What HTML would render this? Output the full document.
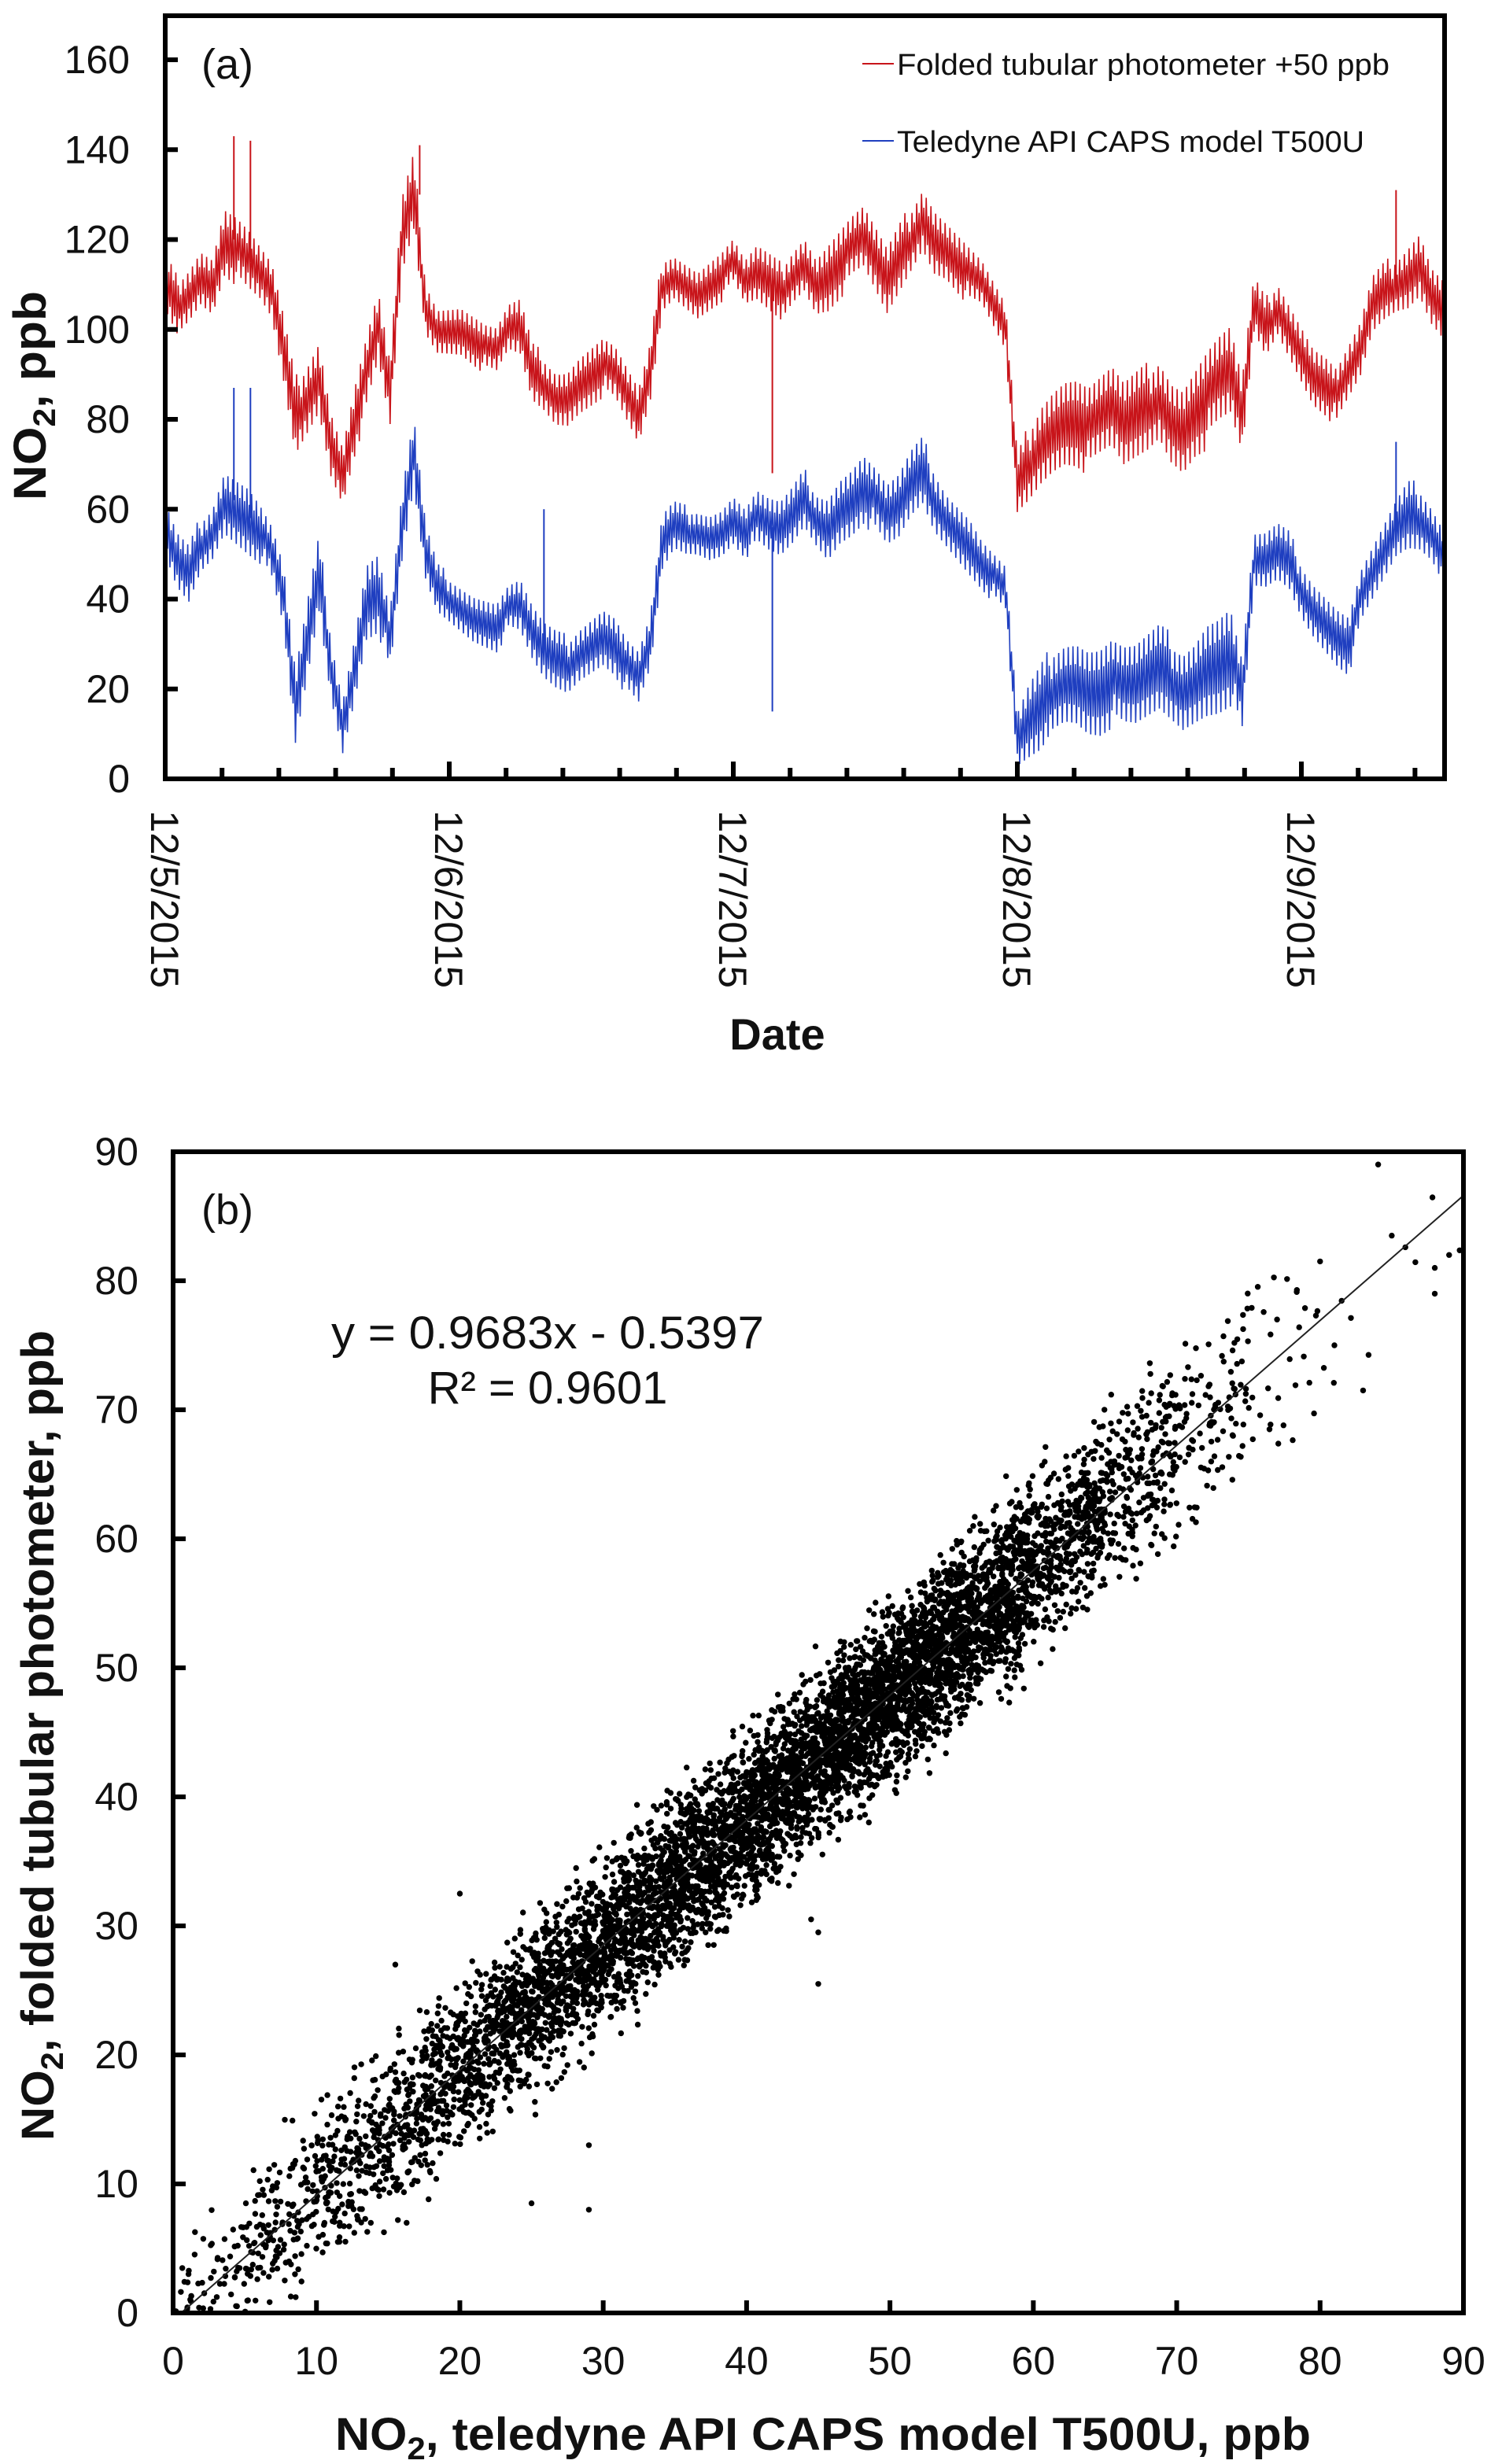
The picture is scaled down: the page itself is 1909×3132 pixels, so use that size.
<!DOCTYPE html>
<html><head><meta charset="utf-8"><style>
html,body{margin:0;padding:0;background:#fff}
svg{display:block}
text{font-family:"Liberation Sans",Arial,sans-serif;fill:#111}
</style></head><body>
<svg id="fig" width="1909" height="3132" viewBox="0 0 1909 3132" xmlns="http://www.w3.org/2000/svg">
<g id="chartA"></g>
<g id="chartB"></g>
</svg>
<script>
// ---------- Chart (a) data: hourly values starting 12/5/2015 00:00 ----------
const dateLabels = ["12/5/2015","12/6/2015","12/7/2015","12/8/2015","12/9/2015"];
const yTicksA = [0,20,40,60,80,100,120,140,160];
const photometerPlus50 = [110,105,108,112,110,120,118,115,112,108,
 95,80,85,90,75,68,80,90,100,85,
 120,130,105,100,100,100,98,96,95,100,
 100,90,88,85,85,88,90,92,90,85,
 80,90,110,112,110,108,110,112,115,110,
 112,110,108,112,115,110,112,115,118,120,
 115,110,115,120,125,120,118,115,112,110,
 105,100,65,70,75,78,80,80,78,80,
 82,78,80,82,85,80,78,82,85,88,
 90,80,105,100,105,100,95,90,88,85,
 90,95,105,108,110,112,115,108,105];
const capsT500U = [55,48,45,52,55,62,60,58,55,50,
 40,15,30,45,25,12,25,40,42,30,
 55,72,50,42,40,38,36,35,34,38,
 38,32,28,26,25,28,30,32,30,25,
 22,30,52,56,55,55,54,55,58,55,
 58,56,55,58,62,58,56,60,62,65,
 62,58,60,65,68,62,58,55,52,48,
 45,42,8,12,15,20,22,22,20,20,
 22,20,20,22,24,22,20,22,25,26,
 28,18,48,48,50,48,42,38,35,32,
 30,40,45,50,55,58,58,55,50];
const photometerNoise = [6,6,6,6,6,7,7,7,6,6, 7,8,8,8,7,6,7,8,8,7, 8,8,6,5,5,5,5,5,5,5,
 6,6,6,6,6,6,6,6,6,6, 6,6,6,5,5,5,5,5,5,5, 6,6,6,6,6,6,7,7,7,7, 7,7,7,7,7,7,6,6,6,5,
 5,5,6,8,9,9,9,9,9,9, 9,9,9,9,9,9,9,9,10,10, 10,8,6,6,6,6,6,6,6,6, 6,6,6,6,6,7,7,6,6];
const capsNoise = photometerNoise.slice();
const photometerSpikeHours = [5.8,7.2,21.5,51.3,104];
const photometerSpikeValues = [143,142,141,68,131];
const capsSpikeHours = [5.8,7.2,32,51.3,104];
const capsSpikeValues = [87,87,60,15,75];

// ---------- Chart (b) data ----------
const xTicksB = [0,10,20,30,40,50,60,70,80,90];
const yTicksB = [0,10,20,30,40,50,60,70,80,90];
const slope = 0.9683, intercept = -0.5397;
const binStart = [0,5,10,15,20,25,30,35,40,45,50,55,60,65,70,75,80,85];
const binCount = [70,150,220,320,440,560,640,680,760,900,940,700,420,230,100,28,6,4];
const binSpread = [2.5,3,3,3,3,3,3.1,3.1,3.1,3.1,3.1,3.1,3.1,3.2,3.3,3.5,4,4];
const outlierX = [45,45,44.5,29,29,25,20,15.5,83,88,88,89,80,85,77,81];
const outlierY = [25.5,29.5,30.5,8,13,8.5,32.5,27,71.5,79,81,82,81.5,83.5,77,75];

const NS="http://www.w3.org/2000/svg";
function mk(tag,attrs,parent){const e=document.createElementNS(NS,tag);for(const k in attrs)e.setAttribute(k,attrs[k]);parent.appendChild(e);return e;}
const fr=v=>v-Math.floor(v);

// ===== Chart A =====
const A=document.getElementById('chartA');
const ax0=210, ax1=1836, ay0=990, ay1=76;
const pxPerDay=361;
const xA=h=>ax0+h*pxPerDay/24;
const yA=v=>ay0-(v/160)*(ay0-ay1);

function drawSeries(vals,noise,color,name,seed){
  let d="";
  let c=0;
  const steps=10;
  for(let i=0;i<vals.length-1;i++){
    for(let k=0;k<steps;k++){
      const t=k/steps;
      const m=vals[i]*(1-t)+vals[i+1]*t;
      const n=noise[i]*(1-t)+noise[i+1]*t;
      const amp=0.3+0.9*fr(c*0.7548776+seed);
      const v=m+(c%2?1:-1)*amp*n; c++;
      d+=(d?"L":"M")+xA(i+t).toFixed(1)+","+yA(v).toFixed(1);
    }
  }
  const p=mk('path',{d:d,fill:'none',stroke:color,'stroke-width':1.6},A);
  
  
}
drawSeries(photometerPlus50,photometerNoise,'#c8141a','photometer-line',0.2);
drawSeries(capsT500U,capsNoise,'#1f3fc0','caps-line',0.6);
function drawSpikes(hours,vals,base,color,name){
  hours.forEach((h,i)=>{
    const idx=Math.floor(h);
    const b=base[idx];
    const l=mk('line',{x1:xA(h),x2:xA(h),y1:yA(b),y2:yA(vals[i]),stroke:color,'stroke-width':2},A);
    
    
  });
}
drawSpikes(photometerSpikeHours,photometerSpikeValues,photometerPlus50,'#c8141a','photometer-spike');
drawSpikes(capsSpikeHours,capsSpikeValues,capsT500U,'#1f3fc0','caps-spike');

const fa=mk('rect',{x:ax0,y:20,width:ax1-ax0,height:ay0-20,fill:'none',stroke:'#000','stroke-width':6},A);


yTicksA.forEach(v=>{
  const t=mk('line',{x1:ax0,x2:ax0+16,y1:yA(v),y2:yA(v),stroke:'#000','stroke-width':6},A);
  
  
  const l=mk('text',{x:165,y:yA(v)+17,'text-anchor':'end','font-size':50},A);
  l.textContent=v;
  
  
});
for(let i=0;i*pxPerDay/5<=ax1-ax0-5;i++){
  const x=ax0+i*pxPerDay/5;
  const major=i%5===0;
  const t=mk('line',{x1:x,x2:x,y1:ay0,y2:ay0-(major?22:14),stroke:'#000','stroke-width':6},A);
  
  
}
dateLabels.forEach((s,i)=>{
  const x=ax0+i*pxPerDay-18;
  const l=mk('text',{transform:`translate(${x},1030) rotate(90)`,'font-size':50,textLength:226,lengthAdjust:'spacingAndGlyphs'},A);
  l.textContent=s;
  
  
});
</script>
<script>
(function(){
const A=document.getElementById('chartA');
A.insertAdjacentHTML('beforeend',`
<text x="256" y="100" font-size="54">(a)</text>
<line x1="1096" x2="1136" y1="81" y2="81" stroke="#c8141a" stroke-width="2"/>
<text x="1140" y="95" font-size="38" textLength="626" lengthAdjust="spacingAndGlyphs">Folded tubular photometer +50 ppb</text>
<line x1="1096" x2="1136" y1="179" y2="179" stroke="#1f3fc0" stroke-width="2"/>
<text x="1140" y="193" font-size="38" textLength="594" lengthAdjust="spacingAndGlyphs">Teledyne API CAPS model T500U</text>
<text x="988" y="1334" font-size="56" font-weight="bold" text-anchor="middle">Date</text>
<text transform="translate(58,503) rotate(-90)" font-size="58" font-weight="bold" text-anchor="middle" textLength="266" lengthAdjust="spacingAndGlyphs">NO<tspan font-size="40" dy="12">2</tspan><tspan dy="-12">, ppb</tspan></text>
`);
})();

// ===== Chart B =====
const B=document.getElementById('chartB');
const bx0=220,bx1=1860,by0=2940,by1=1464;
const xB=v=>bx0+v/90*(bx1-bx0);
const yB=v=>by0-v/90*(by0-by1);
const dots=mk('g',{fill:'#000'},B);


binStart.forEach((b,bi)=>{
  for(let j=0;j<binCount[bi];j++){
    const x=b+5*fr(j*0.6180339+bi*0.137+fr(j*j*0.000731));
    const z=(fr(j*0.7548776+0.1+bi*0.31)+fr(j*0.5698403+0.3+fr(j*j*0.00137))+fr(j*0.4142135+0.7+bi*0.17)-1.5)*2;
    const y=slope*x+intercept+z*binSpread[bi];
    if(y<0||x<0) continue;
    const c=mk('circle',{cx:xB(x).toFixed(1),cy:yB(y).toFixed(1),r:3.7},dots);
    
    
  }
});
outlierX.forEach((x,i)=>{
  const c=mk('circle',{cx:xB(x),cy:yB(outlierY[i]),r:3.7},dots);
  
  
});
const xs=(0-intercept)/slope;
const reg=mk('line',{x1:xB(xs),y1:yB(0),x2:xB(90),y2:yB(slope*90+intercept),stroke:'#222','stroke-width':2},B);


const fb=mk('rect',{x:bx0,y:by1,width:bx1-bx0,height:by0-by1,fill:'none',stroke:'#000','stroke-width':6},B);


xTicksB.forEach(v=>{
  const t=mk('line',{x1:xB(v),x2:xB(v),y1:by0,y2:by0-16,stroke:'#000','stroke-width':6},B);
  
  
  const l=mk('text',{x:xB(v),y:3018,'text-anchor':'middle','font-size':50},B);
  l.textContent=v;
  
  
});
yTicksB.forEach(v=>{
  const t=mk('line',{x1:bx0,x2:bx0+16,y1:yB(v),y2:yB(v),stroke:'#000','stroke-width':6},B);
  
  
  const l=mk('text',{x:176,y:yB(v)+17,'text-anchor':'end','font-size':50},B);
  l.textContent=v;
  
  
});
B.insertAdjacentHTML('beforeend',`
<text x="256" y="1556" font-size="54">(b)</text>
<text x="696" y="1714" font-size="58" text-anchor="middle" textLength="550" lengthAdjust="spacingAndGlyphs">y = 0.9683x - 0.5397</text>
<text x="696" y="1784" font-size="58" text-anchor="middle">R² = 0.9601</text>
<text x="1046" y="3114" font-size="58" font-weight="bold" text-anchor="middle" textLength="1240" lengthAdjust="spacingAndGlyphs">NO<tspan font-size="40" dy="12">2</tspan><tspan dy="-12">,  teledyne API CAPS model T500U, ppb</tspan></text>
<text transform="translate(68,2206) rotate(-90)" font-size="58" font-weight="bold" text-anchor="middle" textLength="1030" lengthAdjust="spacingAndGlyphs">NO<tspan font-size="40" dy="12">2</tspan><tspan dy="-12">, folded tubular photometer, ppb</tspan></text>
`);
</script>
</body></html>
